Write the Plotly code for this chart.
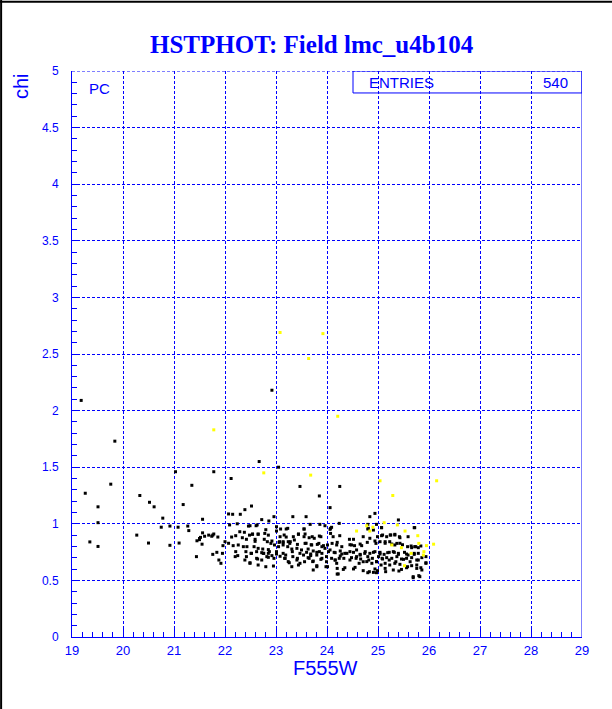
import plotly.graph_objects as go

# ---- data ----
black_x = [
 19.18,19.84,19.76,19.26,20.33,20.52,20.61,19.51,21.03,21.35,21.78,22.12,22.67,21.18,20.78,20.75,20.92,19.51,20.27,19.35,
 19.51,20.50,20.92,21.10,21.08,21.27,21.29,21.56,21.50,21.52,21.45,21.50,21.55,21.60,21.68,21.74,21.76,21.78,21.56,21.76,21.44,
 23.47,24.25,23.05,22.92,
 22.39,22.52,22.07,22.15,22.30,22.72,22.86,22.96,21.86,22.09,22.24,22.46,22.63,22.29,22.38,22.48,22.54,22.65,22.80,22.85,
 23.09,23.20,23.01,22.13,22.21,22.34,22.42,22.59,22.77,22.92,23.20,23.07,23.14,23.24,22.00,22.07,21.96,22.16,22.26,22.36,
 22.43,22.57,22.65,22.74,22.85,22.97,23.05,23.14,23.23,21.84,21.95,22.21,22.25,22.41,22.42,22.51,22.72,22.76,22.85,22.92,
 23.01,23.08,23.19,23.24,23.18,21.88,21.92,22.20,22.39,22.49,22.64,22.82,
 23.85,24.06,23.33,23.59,23.67,23.86,23.96,24.06,24.09,24.24,23.55,23.34,23.44,23.55,23.65,23.75,23.85,24.12,24.44,24.52,
 23.28,23.42,23.59,23.70,23.81,23.90,24.01,24.19,24.29,24.48,24.68,23.31,23.41,23.50,23.63,23.73,23.85,23.96,24.06,24.14,
 24.26,24.35,24.45,24.58,24.65,23.33,23.42,23.54,23.63,23.68,23.80,23.90,23.99,24.09,24.16,24.26,24.33,24.48,24.58,24.66,
 23.47,23.72,23.80,24.01,24.19,24.35,24.52,24.22,24.63,
 24.84,24.94,25.40,24.80,24.97,24.81,25.07,25.71,24.91,25.07,25.17,25.25,25.33,25.43,24.84,24.94,25.04,25.14,25.23,25.33,
 25.43,25.58,25.66,25.72,25.79,24.75,24.84,24.94,25.04,25.12,25.22,25.32,25.40,25.52,25.59,25.71,25.79,24.80,24.89,25.01,
 25.09,25.17,25.27,25.37,25.46,25.56,25.66,25.76,25.86,25.94,24.78,24.88,24.97,25.06,25.14,25.23,25.33,25.43,25.58,25.66,
 25.76,25.84,25.94,24.94,25.15,25.69,25.80,24.91,25.41,
 22.49,22.61,23.01,23.23,23.55,24.07,24.80,25.07,25.72,
 22.54,22.65,22.78,23.08,23.16,23.44,23.57,23.71,23.88,24.07,24.25,24.71,24.99,25.09,25.24,25.33,25.42,25.59,
 22.59,22.83,22.90,23.06,23.14,23.27,23.36,23.57,23.69,23.84,23.93,24.10,24.20,24.45,24.54,24.65,24.79,24.96,25.14,25.27,
 25.37,25.48,25.65,25.74,25.84,
 22.52,22.62,22.75,22.87,23.01,23.14,23.32,23.47,23.60,23.68,23.80,23.90,24.03,24.16,24.29,24.39,24.52,24.65,24.74,24.91,
 25.04,25.19,25.30,25.40,25.56,25.71,
 22.49,22.62,22.72,22.85,22.96,23.17,23.26,23.41,23.56,23.65,23.73,23.88,23.99,24.16,24.24,24.45,24.57,24.71,24.82,24.97,
 25.08,25.22,25.35,25.50,25.63,25.79,25.94,
 22.65,22.80,22.95,23.31,23.44,23.73,23.80,23.98,24.20,24.32,24.55,24.71,24.83,24.99,25.14,25.30,25.46,25.56,25.76,25.86,
 24.20,24.80,24.97,25.69,25.82,
]
black_y = [
 2.09,1.73,1.35,1.27,1.25,1.19,1.15,1.15,1.46,1.34,1.46,1.40,1.55,1.17,1.05,0.97,0.98,1.01,0.90,0.84,
 0.80,0.83,0.81,0.83,0.97,0.98,0.94,1.04,0.87,0.88,0.85,0.86,0.82,0.89,0.90,0.89,0.90,0.91,0.92,0.73,0.71,
 1.33,1.33,1.50,2.18,
 1.125,1.157,1.087,1.084,1.084,1.037,1.025,1.063,0.883,0.990,1.000,0.980,0.990,0.930,0.925,0.900,0.907,0.907,0.948,0.900,
 0.954,0.954,0.936,0.883,0.895,0.877,0.863,0.863,0.863,0.848,0.883,0.842,0.842,0.842,0.842,0.828,0.807,0.807,0.813,0.798,
 0.798,0.798,0.783,0.777,0.772,0.813,0.798,0.813,0.798,0.748,0.739,0.754,0.719,0.754,0.710,0.739,0.745,0.739,0.739,0.719,
 0.754,0.713,0.724,0.666,0.695,0.680,0.651,0.710,0.680,0.651,0.689,0.710,
 1.246,1.143,1.063,1.063,0.995,0.995,0.983,0.951,0.969,1.004,0.954,0.886,0.907,0.886,0.877,0.872,0.892,0.886,0.863,0.863,
 0.842,0.818,0.828,0.813,0.818,0.798,0.813,0.813,0.798,0.813,0.807,0.777,0.783,0.769,0.777,0.760,0.754,0.783,0.769,0.748,
 0.760,0.739,0.754,0.769,0.730,0.710,0.695,0.724,0.701,0.719,0.724,0.695,0.710,0.695,0.680,0.716,0.695,0.701,0.710,0.689,
 0.651,0.666,0.630,0.621,0.651,0.612,0.601,0.557,0.651,
 1.063,1.092,1.034,0.995,0.995,0.960,0.966,0.966,0.945,0.895,0.886,0.901,0.901,0.877,0.872,0.848,0.842,0.828,0.842,0.813,
 0.828,0.798,0.789,0.798,0.789,0.754,0.739,0.754,0.748,0.730,0.748,0.748,0.730,0.748,0.724,0.730,0.739,0.710,0.695,0.710,
 0.689,0.701,0.695,0.710,0.689,0.695,0.701,0.680,0.701,0.710,0.666,0.651,0.666,0.636,0.651,0.636,0.651,0.642,0.621,0.630,
 0.636,0.612,0.651,0.601,0.577,0.533,0.542,0.571,0.583,
 0.983,0.983,0.974,0.960,0.954,0.960,0.954,0.966,0.966,
 0.910,0.910,0.915,0.886,0.901,0.910,0.910,0.886,0.886,0.915,0.895,0.886,0.886,0.901,0.901,0.907,0.886,0.886,
 0.845,0.842,0.827,0.836,0.833,0.827,0.857,0.827,0.815,0.827,0.807,0.827,0.836,0.815,0.807,0.821,0.836,0.827,0.842,0.821,
 0.827,0.815,0.804,0.798,0.804,
 0.739,0.754,0.739,0.754,0.733,0.739,0.754,0.739,0.748,0.733,0.748,0.739,0.754,0.745,0.733,0.739,0.748,0.724,0.739,0.748,
 0.733,0.745,0.754,0.739,0.733,0.739,
 0.656,0.695,0.680,0.704,0.695,0.695,0.656,0.680,0.665,0.695,0.671,0.686,0.665,0.680,0.695,0.680,0.695,0.665,0.680,0.665,
 0.695,0.680,0.665,0.686,0.665,0.680,0.656,
 0.636,0.621,0.627,0.621,0.636,0.592,0.621,0.621,0.606,0.597,0.615,0.586,0.577,0.586,0.606,0.592,0.597,0.612,0.606,0.592,
 0.556,0.568,0.568,0.524,0.533,
]
yellow_x = [21.78,23.08,23.92,23.64,24.21,22.76,23.68,25.04,26.15,25.29,25.12,25.38,25.53,25.78,25.80,26.09,25.95,25.90,
            25.89,25.65,25.46,24.84,24.78,24.58,24.90,25.52,25.27]
yellow_y = [1.83,2.69,2.68,2.46,1.95,1.45,1.43,1.38,1.38,1.25,1.01,0.99,0.936,0.895,0.827,0.82,0.807,0.754,
            0.724,0.739,0.789,0.936,0.983,0.936,0.97,0.63,0.813]

title_text = "HSTPHOT: Field lmc_u4b104"
x_title = "F555W"
y_title = "chi"
n_entries = 540

BLUE = "#0000ff"
FONT = "Liberation Sans, Arial, sans-serif"

fig = go.Figure()
fig.add_trace(go.Scatter(x=black_x, y=black_y, mode="markers",
                         marker=dict(symbol="square", size=3, color="black", line=dict(width=0)),
                         hoverinfo="skip", showlegend=False))
fig.add_trace(go.Scatter(x=yellow_x, y=yellow_y, mode="markers",
                         marker=dict(symbol="square", size=3, color="#ffff00", line=dict(width=0)),
                         hoverinfo="skip", showlegend=False))

fig.update_layout(
    width=612, height=709,
    margin=dict(l=72, r=30, t=71, b=72),
    paper_bgcolor="white", plot_bgcolor="white",
    showlegend=False,
    font=dict(family=FONT, color=BLUE),
    xaxis=dict(range=[19, 29], dtick=1, tick0=19, showgrid=True, gridcolor=BLUE, griddash="3px,2px", gridwidth=1,
               zeroline=False, showline=True, linecolor=BLUE, linewidth=1,
               ticks="inside", ticklen=8, tickcolor=BLUE, tickwidth=1,
               tickfont=dict(size=13, color=BLUE, family=FONT), ticklabelstandoff=1,
               minor=dict(dtick=0.2, ticklen=5, tickcolor=BLUE, ticks="inside", showgrid=False)),
    yaxis=dict(range=[0, 5], dtick=0.5, tick0=0, showgrid=True, gridcolor=BLUE, griddash="3px,2px", gridwidth=1,
               zeroline=False, showline=True, linecolor=BLUE, linewidth=1,
               ticks="inside", ticklen=8, tickcolor=BLUE, tickwidth=1,
               tickfont=dict(size=12, color=BLUE, family=FONT), ticklabelstandoff=10,
               tickformat="~g",
               minor=dict(dtick=0.1, ticklen=5, tickcolor=BLUE, ticks="inside", showgrid=False)),
)

shapes = [
    dict(type="line", xref="x", yref="y", x0=29, x1=29, y0=0, y1=5, line=dict(color=BLUE, width=1)),
    dict(type="line", xref="x", yref="y", x0=19, x1=29, y0=5, y1=5, line=dict(color=BLUE, width=1, dash="3px,2px")),
    dict(type="rect", xref="x", yref="y", x0=24.51, x1=29, y0=4.806, y1=5, line=dict(color=BLUE, width=1),
         fillcolor="rgba(0,0,0,0)"),
    dict(type="line", xref="paper", yref="paper", x0=-0.139, x1=-0.139, y0=-0.15, y1=1.13,
         line=dict(color="black", width=2)),
    dict(type="line", xref="paper", yref="paper", x0=-0.15, x1=1.08, y0=1.1225, y1=1.1225,
         line=dict(color="black", width=2)),
]
fig.update_layout(shapes=shapes)

ann = [
    dict(text="<b>%s</b>" % title_text, xref="paper", yref="paper", x=0.4706, y=1.0477,
         xanchor="center", yanchor="middle", showarrow=False,
         font=dict(family="Liberation Serif, Times New Roman, serif", size=25, color=BLUE)),
    dict(text=x_title, xref="paper", yref="paper", x=0.498, y=-0.054, xanchor="center", yanchor="middle",
         showarrow=False, font=dict(family=FONT, size=20, color=BLUE)),
    dict(text=y_title, xref="paper", yref="paper", x=-0.1, y=0.9735, xanchor="center", yanchor="middle",
         textangle=-90, showarrow=False, font=dict(family=FONT, size=20, color=BLUE)),
    dict(text="PC", xref="x", yref="y", x=19.53, y=4.845, xanchor="center", yanchor="middle",
         showarrow=False, font=dict(family=FONT, size=15, color=BLUE)),
    dict(text="ENTRIES", xref="x", yref="y", x=24.78, y=4.898, xanchor="left", yanchor="middle",
         showarrow=False, font=dict(family=FONT, size=15, color=BLUE)),
    dict(text=str(n_entries), xref="x", yref="y", x=28.765, y=4.898, xanchor="right", yanchor="middle",
         showarrow=False, font=dict(family=FONT, size=15, color=BLUE)),
]
fig.update_layout(annotations=ann)

fig.write_html("out.html", config={"displayModeBar": False},
               post_script="document.body.style.margin='0';document.body.style.overflow='hidden';")
